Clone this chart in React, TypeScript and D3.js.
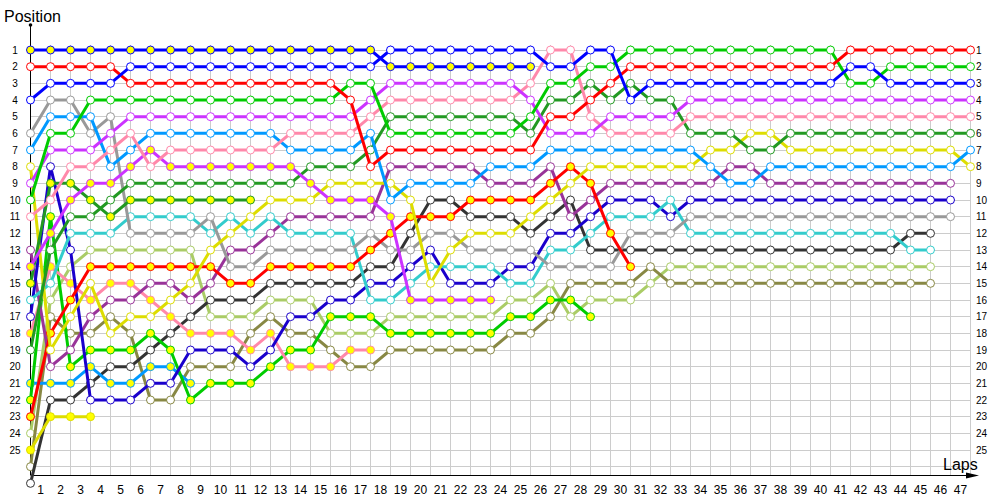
import React from "react";
import * as d3 from "d3";

// lap numbers shown on the x axis
const lapLabels = ["1","2","3","4","5","6","7","8","9","10","11","12","13","14","15","16","17","18","19","20","21","22","23","24","25","26","27","28","29","30","31","32","33","34","35","36","37","38","39","40","41","42","43","44","45","46","47"];
const positionLabels = ["1","2","3","4","5","6","7","8","9","10","11","12","13","14","15","16","17","18","19","20","21","22","23","24","25"];

// position per lap (index = lap, starting at lap 0 = grid)
const blueA = [1,1,1,1,1,1,1,1,1,1,1,1,1,1,1,1,1,1,2,2,2,2,2,2,2,2];
const blueC = [4,3,3,3,3,2,2,2,2,2,2,2,2,2,2,2,2,2,1,1,1,1,1,1,1,1,2,2,1,1,4,3,3,3,3,3,3,3,3,3,3,2,2,3,3,3,3,3];
const redB = [2,2,2,2,2,3,3,3,3,3,3,3,3,3,3,3,4,8,7,7,7,7,7,7,7,7,5,5,4,3,2,2,2,2,2,2,2,2,2,2,2,1,1,1,1,1,1,1];
const redY = [23,18,16,14,14,14,14,14,14,14,15,15,14,14,14,14,14,13,12,11,11,11,10,10,10,10,9,8,9,12,14];
const grayD = [6,4,4,6,5,12,12,12,12,11,14,14,13,13,13,13,13,12,13,13,12,12,13,13,13,13,14,14,14,14,12,12,12,11,11,11,11,11,11,11,11,11,11,11,11,11,11];
const skyE = [7,5,5,5,8,7,6,6,6,6,6,6,6,7,7,7,7,6,10,9,9,9,9,8,8,8,7,7,7,7,7,7,7,7,8,9,9,8,8,8,8,8,8,8,8,8,8,7];
const skyY = [21,21,21,20,21,21,20,20,21];
const yellowF = [8,19,17,15,18,17,17,16,15,13,12,11,10,10,10,9,9,9,9,10,15,13,12,12,12,11,10,9,8,8,8,8,8,8,7,7,6,6,7,7,7,7,7,7,7,7,7,8];
const yellowY = [25,23,23,23];
const violetW = [9,7,7,7,6,5,5,5,5,5,5,5,5,5,5,5,5,4,3,3,3,3,3,3,3,4,6,6,6,5,5,5,5,4,4,4,4,4,4,4,4,4,4,4,4,4,4,4];
const violetY = [14,12,10,9,9,8,7,8,8,8,8,8,8,8,9,10,10,10,11,16,16,16,16,16];
const limeW = [10,6,6,4,4,4,4,4,4,4,4,4,4,4,4,4,3,3,6,6,6,6,6,6,6,5,3,3,2,2,1,1,1,1,1,1,1,1,1,1,1,3,3,2,2,2,2,2];
const limeY = [22,11,20,19,19,19,18,19,22,21,21,21,20,19,19,17,17,17,18,18,18,18,18,18,17,17,16,16,17];
const greenW = [19,13,11,11,10,9,9,9,9,9,9,9,9,9,8,8,8,7,5,5,5,5,5,5,5,6,4,4,3,4,3,4,4,6,6,6,7,7,6,6,6,6,6,6,6,6,6,6];
const greenY = [15,9,9,10,11,10,10,10,10,10,10,10];
const pinkW = [11,10,8,8,7,6,8,7,7,7,7,7,7,6,6,6,6,5,4,4,4,4,4,4,4,3,1,1,5,6,6,6,6,5,5,5,5,5,5,5,5,5,5,5,5,5,5,5];
const pinkY = [18,14,15,16,15,15,16,17,18,18,18,19,18,20,20,20,19,19];
const cyanW = [16,15,12,12,12,11,11,11,11,12,11,12,11,12,12,12,12,16,16,15,14,14,14,14,15,15,13,13,12,11,11,11,10,12,12,12,12,12,12,12,12,12,12,12,13,13];
const navyW = [17,8,13,22,22,22,21,21,19,19,19,20,19,17,17,16,16,15,15,14,13,15,15,15,14,14,12,12,11,10,10,10,11,10,10,10,10,10,10,10,10,10,10,10,10,10,10];
const plumW = [13,20,19,17,16,16,15,15,16,15,13,13,12,11,11,11,11,11,8,8,8,8,8,9,9,9,8,11,10,9,9,9,9,9,9,8,8,9,9,9,9,9,9,9,9,9,9];
const leafW = [24,16,14,13,13,13,13,13,13,17,17,17,16,16,16,18,18,18,17,17,17,17,17,17,16,16,15,17,16,16,16,15,14,14,14,14,14,14,14,14,14,14,14,14,14,14];
const oliveW = [26,17,18,18,17,18,22,22,20,20,20,18,17,18,18,19,20,20,19,19,19,19,19,19,18,18,17,15,15,15,15,14,15,15,15,15,15,15,15,15,15,15,15,15,15,15];
const charW = [27,22,22,21,20,20,19,18,17,16,16,16,15,15,15,15,15,14,14,12,10,10,11,11,11,12,11,10,13,13,13,13,13,13,13,13,13,13,13,13,13,13,13,13,12,12];

const YEL = "#ffff00";
const WHT = "#ffffff";

const series = [
  { values: leafW, color: "#aacc66", fill: WHT },
  { values: oliveW, color: "#888844", fill: WHT },
  { values: charW, color: "#333333", fill: WHT },
  { values: yellowY, color: "#dddd00", fill: YEL },
  { values: skyY, color: "#0099ff", fill: YEL },
  { values: limeY, color: "#00cc00", fill: YEL },
  { values: pinkY, color: "#ff88aa", fill: YEL },
  { values: plumW, color: "#993399", fill: WHT },
  { values: navyW, color: "#1a00cc", fill: WHT },
  { values: cyanW, color: "#33cccc", fill: WHT },
  { values: grayD, color: "#999999", fill: WHT },
  { values: redY, color: "#ff0000", fill: YEL },
  { values: yellowF, color: "#dddd00", fill: WHT },
  { values: greenY, color: "#229922", fill: YEL },
  { values: greenW, color: "#229922", fill: WHT },
  { values: violetY, color: "#cc33ff", fill: YEL },
  { values: skyE, color: "#0099ff", fill: WHT },
  { values: pinkW, color: "#ff88aa", fill: WHT },
  { values: violetW, color: "#cc33ff", fill: WHT },
  { values: limeW, color: "#00cc00", fill: WHT },
  { values: redB, color: "#ff0000", fill: WHT },
  { values: blueC, color: "#0000ff", fill: WHT },
  { values: blueA, color: "#0000ff", fill: YEL },
];

export default function App() {
  const x = d3.scaleLinear().domain([0, 47]).range([30.5, 970.5]);
  const y = d3.scaleLinear().domain([1, 26]).range([50, 466.67]);
  const line = d3.line<number>().x((_, i) => x(i)).y((d) => y(d));
  const gridLaps = d3.range(1, 48);
  const gridPos = d3.range(1, 27);
  const font = "'Liberation Sans', Arial, sans-serif";

  return (
    <svg width={1000} height={500} style={{ position: "absolute", left: 0, top: 0, background: "#fff" }}>
      <rect x={0} y={0} width={1000} height={500} fill="#fff" />
      {/* grid */}
      {gridLaps.map((l) => (
        <line key={"v" + l} x1={x(l)} x2={x(l)} y1={45} y2={475} stroke="#cccccc" strokeWidth={1} />
      ))}
      {gridPos.map((p) => (
        <line key={"h" + p} x1={x(0)} x2={x(47)} y1={Math.floor(y(p)) + 0.5} y2={Math.floor(y(p)) + 0.5} stroke="#cccccc" strokeWidth={1} />
      ))}
      {/* axes */}
      <line x1={x(0)} x2={x(0)} y1={25} y2={475} stroke="#000" strokeWidth={1} />
      <circle cx={x(0)} cy={25} r={1.8} fill="#000" />
      <line x1={x(0)} x2={972} y1={475.5} y2={475.5} stroke="#000" strokeWidth={1} />
      <polygon points="966,472.5 979,475.5 966,478.5" fill="#000" />
      {/* titles */}
      <text x={4} y={22} fontFamily={font} fontSize={16} fill="#000">Position</text>
      <text x={943} y={470} fontFamily={font} fontSize={16} fill="#000">Laps</text>
      {/* lap labels */}
      {lapLabels.map((t, i) => (
        <text key={"l" + t} x={x(i + 1) - 10} y={494} textAnchor="middle" fontFamily={font} fontSize={12} fill="#000">{t}</text>
      ))}
      {/* position labels */}
      {positionLabels.map((t, i) => (
        <g key={"p" + t}>
          <text x={15} y={y(i + 1) + 3.5} textAnchor="middle" fontFamily={font} fontSize={10} fill="#000">{t}</text>
          <text x={976} y={y(i + 1) + 3.5} textAnchor="start" fontFamily={font} fontSize={10} fill="#000">{t}</text>
        </g>
      ))}
      {/* series */}
      {series.map((s, si) => (
        <g key={"s" + si}>
          <path d={line(s.values) || ""} fill="none" stroke={s.color} strokeWidth={3} strokeLinejoin="round" strokeLinecap="round" />
          {s.values.map((v, i) => (
            <circle key={i} cx={x(i)} cy={y(v)} r={4} fill={s.fill} stroke={s.color} strokeWidth={1} />
          ))}
        </g>
      ))}
    </svg>
  );
}
